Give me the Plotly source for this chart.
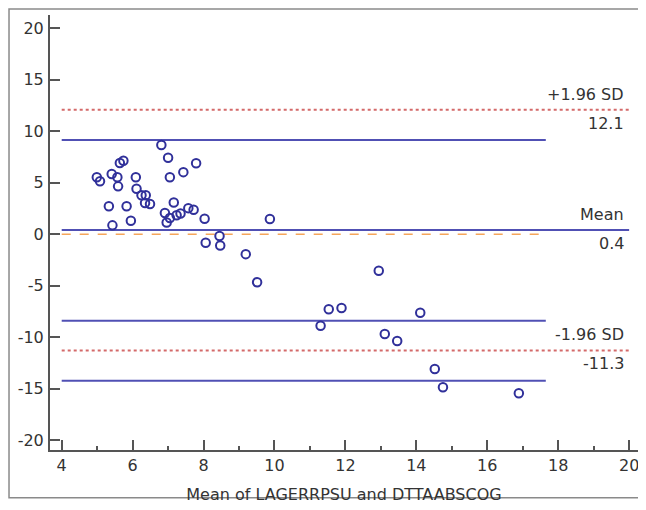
import plotly.graph_objects as go

# Data: mean of the two methods (x) and their difference (y)
mean_vals = [4.99, 5.08, 5.33, 5.41, 5.43, 5.57, 5.59, 5.64, 5.74, 5.83,
             5.95, 6.09, 6.11, 6.25, 6.37, 6.35, 6.49, 6.81, 7.00, 7.05,
             7.16, 6.91, 7.05, 6.96, 7.24, 7.35, 7.43, 7.57, 7.72, 7.79,
             8.03, 9.87, 8.06, 8.45, 8.47, 9.19, 9.51, 12.94, 11.53, 11.89,
             11.30, 14.11, 13.11, 13.46, 14.52, 14.75, 16.89]
diff_vals = [5.53, 5.14, 2.71, 5.85, 0.86, 5.53, 4.65, 6.92, 7.14, 2.71,
             1.31, 5.53, 4.42, 3.78, 3.78, 3.03, 2.93, 8.67, 7.43, 5.53,
             3.08, 2.06, 1.57, 1.14, 1.84, 2.01, 6.03, 2.53, 2.37, 6.90,
             1.50, 1.48, -0.83, -0.17, -1.10, -1.94, -4.67, -3.55, -7.30, -7.17,
             -8.89, -7.63, -9.70, -10.38, -13.10, -14.88, -15.46]

# Reference lines
mean_diff = 0.4
upper_loa = 12.1
lower_loa = -11.3
ci_lines = [9.15, -8.42, -14.24]
zero_line = 0.0
line_x_start = 4
line_x_short = 17.65
line_x_long = 20

limit_labels = ["+1.96 SD", "Mean", "-1.96 SD"]
limit_values = [upper_loa, mean_diff, lower_loa]
limit_value_text = ["12.1", "0.4", "-11.3"]

x_ticks = [4, 6, 8, 10, 12, 14, 16, 18, 20]
y_ticks = [-20, -15, -10, -5, 0, 5, 10, 15, 20]

BLUE_LINE = "#5050b4"
RED_DOT = "#d46a6a"
ORANGE = "#f5a55a"
MARK = "#30309a"
TXT = "#333333"
AX = "#555555"
FONT = "DejaVu Sans"
FS = 16

fig = go.Figure()

# limits of agreement (red dotted)
for v in [upper_loa, lower_loa]:
    fig.add_trace(go.Scatter(x=[line_x_start, line_x_long], y=[v, v], mode="lines",
                             line=dict(color=RED_DOT, width=2, dash="dot"),
                             hoverinfo="skip", showlegend=False))
# CI lines (blue, short)
for v in ci_lines:
    fig.add_trace(go.Scatter(x=[line_x_start, line_x_short], y=[v, v], mode="lines",
                             line=dict(color=BLUE_LINE, width=2),
                             hoverinfo="skip", showlegend=False))
# zero line (orange dashed)
fig.add_trace(go.Scatter(x=[line_x_start, line_x_short], y=[zero_line, zero_line], mode="lines",
                         line=dict(color=ORANGE, width=1.5, dash="dash"),
                         hoverinfo="skip", showlegend=False))
# mean line
fig.add_trace(go.Scatter(x=[line_x_start, line_x_long], y=[mean_diff, mean_diff], mode="lines",
                         line=dict(color=BLUE_LINE, width=2),
                         hoverinfo="skip", showlegend=False))

# points
fig.add_trace(go.Scatter(x=mean_vals, y=diff_vals, mode="markers",
                         marker=dict(symbol="circle-open", size=8.5,
                                     line=dict(color=MARK, width=2), color=MARK),
                         showlegend=False))

annotations = []
for lab, val, vt in zip(limit_labels, limit_values, limit_value_text):
    annotations.append(dict(x=line_x_long, y=val, xref="x", yref="y", text=lab,
                            showarrow=False, xanchor="right", yanchor="bottom",
                            xshift=-3, yshift=4, font=dict(size=FS, color=TXT, family=FONT)))
    annotations.append(dict(x=line_x_long, y=val, xref="x", yref="y", text=vt,
                            showarrow=False, xanchor="right", yanchor="top",
                            xshift=-3, yshift=-2, font=dict(size=FS, color=TXT, family=FONT)))

# page body has an 8px margin: figure is 638x502 starting at (8, 8)
fig.update_layout(
    width=638, height=502,
    margin=dict(l=42, r=8, t=7, b=60),
    paper_bgcolor="white", plot_bgcolor="white",
    font=dict(family=FONT, size=FS, color=TXT),
    annotations=annotations,
    shapes=[dict(type="rect", xref="paper", yref="paper",
                 x0=-0.0697, x1=1.0034, y0=-0.110, y1=1.0138,
                 line=dict(color="#8a8a8a", width=1.5), fillcolor="rgba(0,0,0,0)",
                 layer="below")],
    xaxis=dict(range=[3.67, 20.25], tickvals=x_ticks, ticktext=[str(t) for t in x_ticks],
               ticks="inside", ticklen=10, tickwidth=1.5, tickcolor=AX,
               minor=dict(dtick=1, tick0=5, ticks="inside", ticklen=4, tickwidth=1.5, tickcolor=AX, showgrid=False),
               showline=True, linecolor=AX, linewidth=2, showgrid=False, zeroline=False,
               automargin=False,
               title=dict(text="Mean of LAGERRPSU and DTTAABSCOG", standoff=15,
                          font=dict(size=FS, color=TXT, family=FONT)),
               tickfont=dict(size=FS, color=TXT, family=FONT)),
    yaxis=dict(range=[-20.97, 21.3], tickvals=y_ticks, ticktext=[str(t) for t in y_ticks],
               ticks="inside", ticklen=10, tickwidth=1.5, tickcolor=AX,
               showline=True, linecolor=AX, linewidth=2, showgrid=False, zeroline=False,
               automargin=False, ticklabelstandoff=1,
               tickfont=dict(size=FS, color=TXT, family=FONT)),
)

fig.write_html("out.html")
